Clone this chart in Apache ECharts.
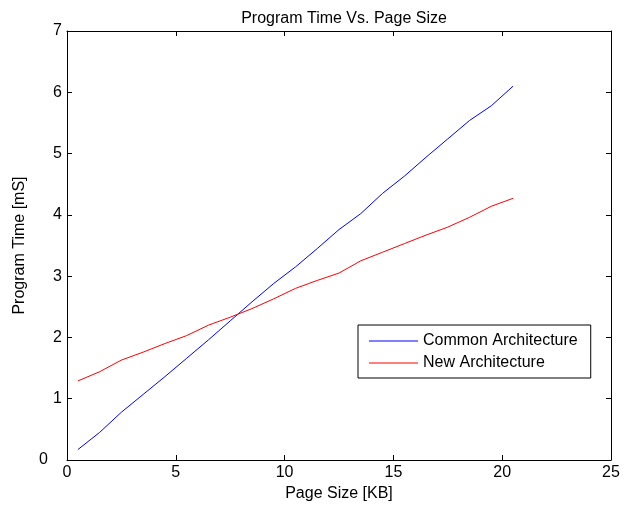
<!DOCTYPE html>
<html>
<head>
<meta charset="utf-8">
<script src="https://cdn.jsdelivr.net/npm/echarts@6/dist/echarts.min.js"></script>
<style>
html,body{margin:0;padding:0;background:#fff;}
#c{width:634px;height:507px;}
</style>
</head>
<body>
<div id="c"></div>
<script>
const pageSize = [0.5,1.5,2.5,3.5,4.5,5.5,6.5,7.5,8.5,9.5,10.5,11.5,12.5,13.5,14.5,15.5,16.5,17.5,18.5,19.5,20.5];
const commonArch = [0.17,0.45,0.78,1.07,1.36,1.66,1.96,2.27,2.58,2.88,3.15,3.45,3.76,4.02,4.35,4.63,4.94,5.24,5.54,5.78,6.10];
const newArch = [1.29,1.44,1.63,1.76,1.90,2.03,2.20,2.33,2.47,2.63,2.80,2.93,3.05,3.25,3.39,3.53,3.67,3.80,3.96,4.14,4.27];
const xTicks = [0,5,10,15,20,25];
const yTicks = [0,1,2,3,4,5,6,7];

const font = 'Liberation Sans, Arial, Helvetica, sans-serif';
const chart = echarts.init(document.getElementById('c'), null, {renderer:'canvas'});
const axisCommon = {
  axisLine:{show:true,onZero:false,lineStyle:{color:'#000',width:1}},
  axisTick:{show:true,inside:true,length:5,lineStyle:{color:'#000'}},
  splitLine:{show:false}
};
chart.setOption({
  animation:false,
  backgroundColor:'#fff',
  title:{text:'Program Time Vs. Page Size',left:339,textAlign:'center',top:6,
    textStyle:{fontFamily:font,fontSize:16,fontWeight:'normal',color:'#000'}},
  grid:{left:67,right:23,top:31,bottom:47,containLabel:false},
  legend:{orient:'vertical',left:358,top:325,
    backgroundColor:'#fff',borderColor:'#000',borderWidth:1,padding:[8,13,7,11],
    icon:'rect',itemWidth:49,itemHeight:1,itemGap:6,
    textStyle:{fontFamily:font,fontSize:16,color:'#000'},
    data:['Common Architecture','New Architecture']},
  xAxis:[
    Object.assign({type:'value',min:0,max:25,interval:5,position:'bottom',
      name:'Page Size [KB]',nameLocation:'middle',nameGap:23,
      nameTextStyle:{fontFamily:font,fontSize:16,color:'#000'},
      axisLabel:{fontFamily:font,fontSize:16,color:'#000',margin:5,
        formatter:v=>xTicks.includes(v)?String(v):''}},axisCommon),
    Object.assign({type:'value',min:0,max:25,interval:5,position:'top',
      axisLabel:{show:false}},axisCommon)
  ],
  yAxis:[
    Object.assign({type:'value',min:0,max:7,interval:1,position:'left',
      name:'Program Time [mS]',nameLocation:'middle',nameGap:39,
      nameTextStyle:{fontFamily:font,fontSize:16,color:'#000'},
      axisLabel:{fontFamily:font,fontSize:16,color:'#000',margin:5,
        formatter:v=>yTicks.includes(v)?(v===0?'{z|0}':String(v)):'',
        rich:{z:{fontFamily:font,fontSize:16,color:'#000',padding:[0,14,0,0]}}}},axisCommon),
    Object.assign({type:'value',min:0,max:7,interval:1,position:'right',
      axisLabel:{show:false}},axisCommon)
  ],
  series:[
    {name:'Common Architecture',type:'line',symbol:'none',
      lineStyle:{color:'#0000ff',width:1},itemStyle:{color:'#0000ff'},
      data:pageSize.map((x,i)=>[x,commonArch[i]])},
    {name:'New Architecture',type:'line',symbol:'none',
      lineStyle:{color:'#ff0000',width:1},itemStyle:{color:'#ff0000'},
      data:pageSize.map((x,i)=>[x,newArch[i]])}
  ]
});
</script>
</body>
</html>
